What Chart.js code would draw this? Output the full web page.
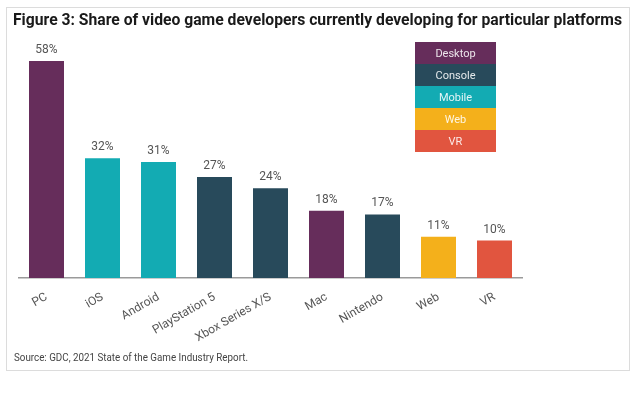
<!DOCTYPE html>
<html>
<head>
<meta charset="utf-8">
<script src="https://cdn.jsdelivr.net/npm/chart.js@4"></script>
<style>
    body {
        margin: 0;
        width: 640px;
        height: 398px;
        background: #ffffff;
        position: relative;
        overflow: hidden;
    }

    /* frame around the figure */
    .frame {
        position: absolute;
        left: 6px;
        top: 7px;
        width: 622px;
        height: 362px;
        border: 1px solid #dcdcdc;
    }

    .title {
        position: absolute;
        left: 13px;
        top: 10px;
        font-family: Roboto, sans-serif;
        font-weight: bold;
        font-size: 16px;
        color: #1a1a1a;
        white-space: nowrap;
        transform-origin: left center;
    }

    .source {
        position: absolute;
        left: 14px;
        top: 351px;
        font-family: Roboto, sans-serif;
        font-size: 11px;
        color: #444;
        white-space: nowrap;
        transform-origin: left center;
    }

    canvas {
        position: absolute;
        left: 0;
        top: 0;
    }
</style>
</head>
<body>

<div class="frame"></div>
<canvas id="graficoPlataformas" width="640" height="398"></canvas>
<div class="title" id="titulo">Figure 3: Share of video game developers currently developing for particular platforms</div>
<div class="source" id="fonte">Source: GDC, 2021 State of the Game Industry Report.</div>

<script>
// DATA
const platforms = ["PC", "iOS", "Android", "PlayStation 5", "Xbox Series X/S", "Mac", "Nintendo", "Web", "VR"];
const shares = [58, 32, 31, 27, 24, 18, 17, 11, 10];
const platformGroups = ["Desktop", "Mobile", "Mobile", "Console", "Console", "Desktop", "Console", "Web", "VR"];

// legend groups and their colours
const groupNames = ["Desktop", "Console", "Mobile", "Web", "VR"];
const groupColors = ["#662d5b", "#284a5b", "#13abb3", "#f4b01b", "#e1553f"];


// COLOUR OF A GROUP
function corDoGrupo(nome) {
    return groupColors[groupNames.indexOf(nome)];
}


// SQUEEZE A TEXT LINE TO A WIDTH (the original uses a condensed face)
function ajustarLargura(id, largura) {
    const el = document.getElementById(id);
    if (!el) return;

    const atual = el.getBoundingClientRect().width;
    if (atual > 0)
        el.style.transform = `scaleX(${largura / atual})`;
}


// VALUE LABELS ABOVE THE BARS
const rotulosBarras = {
    id: "rotulosBarras",

    afterDatasetsDraw(chart) {
        const ctx = chart.ctx;
        const meta = chart.getDatasetMeta(0);

        ctx.save();
        ctx.font = "12px Roboto, sans-serif";
        ctx.fillStyle = "#555555";
        ctx.textAlign = "center";
        ctx.textBaseline = "bottom";

        meta.data.forEach((bar, i) => {
            ctx.fillText(shares[i] + "%", bar.x, bar.y - 5);
        });

        ctx.restore();
    },
};


// STACKED LEGEND BOX
const legendaBlocos = {
    id: "legendaBlocos",

    afterDraw(chart) {
        const ctx = chart.ctx;
        const x = 415;
        const y = 42;
        const w = 81;
        const h = 22;

        ctx.save();
        ctx.font = "11px Roboto, sans-serif";
        ctx.textAlign = "center";
        ctx.textBaseline = "middle";

        groupNames.forEach((nome, i) => {
            ctx.fillStyle = groupColors[i];
            ctx.fillRect(x, y + i * h, w, h);

            ctx.fillStyle = "rgba(255,255,255,0.88)";
            ctx.fillText(nome, x + w / 2, y + i * h + h / 2 + 1);
        });

        ctx.restore();
    },
};


// CREATE CHART
function criarGrafico() {

    const canvas = document.getElementById("graficoPlataformas");

    if (!canvas || typeof Chart === "undefined")
        return;

    new Chart(canvas, {

        type: "bar",

        data: {
            labels: platforms,

            datasets: [{
                data: shares,
                backgroundColor: platformGroups.map(corDoGrupo),
                borderWidth: 0,
                categoryPercentage: 1,
                barPercentage: 0.625,
            }],
        },

        options: {
            responsive: false,
            animation: false,

            layout: {
                padding: {
                    top: 53.5,
                    left: 18.5,
                    right: 117.5,
                    bottom: 0,
                },
            },

            plugins: {
                legend: { display: false },
                tooltip: { enabled: false },
            },

            scales: {

                x: {
                    grid: { display: false },

                    border: {
                        display: true,
                        color: "#9a9a9a",
                        width: 1.5,
                    },

                    ticks: {
                        color: "#555555",
                        minRotation: 30,
                        maxRotation: 30,
                        padding: 4,
                        font: {
                            family: "Roboto, sans-serif",
                            size: 12,
                        },
                    },

                    // fixed height under the axis
                    afterFit: (scale) => {
                        scale.height = 120;
                    },
                },

                y: {
                    display: false,
                    min: 0,
                    max: 60,
                },
            },
        },

        plugins: [rotulosBarras, legendaBlocos],
    });
}


ajustarLargura("titulo", 609);
ajustarLargura("fonte", 234);
criarGrafico();
</script>
</body>
</html>
